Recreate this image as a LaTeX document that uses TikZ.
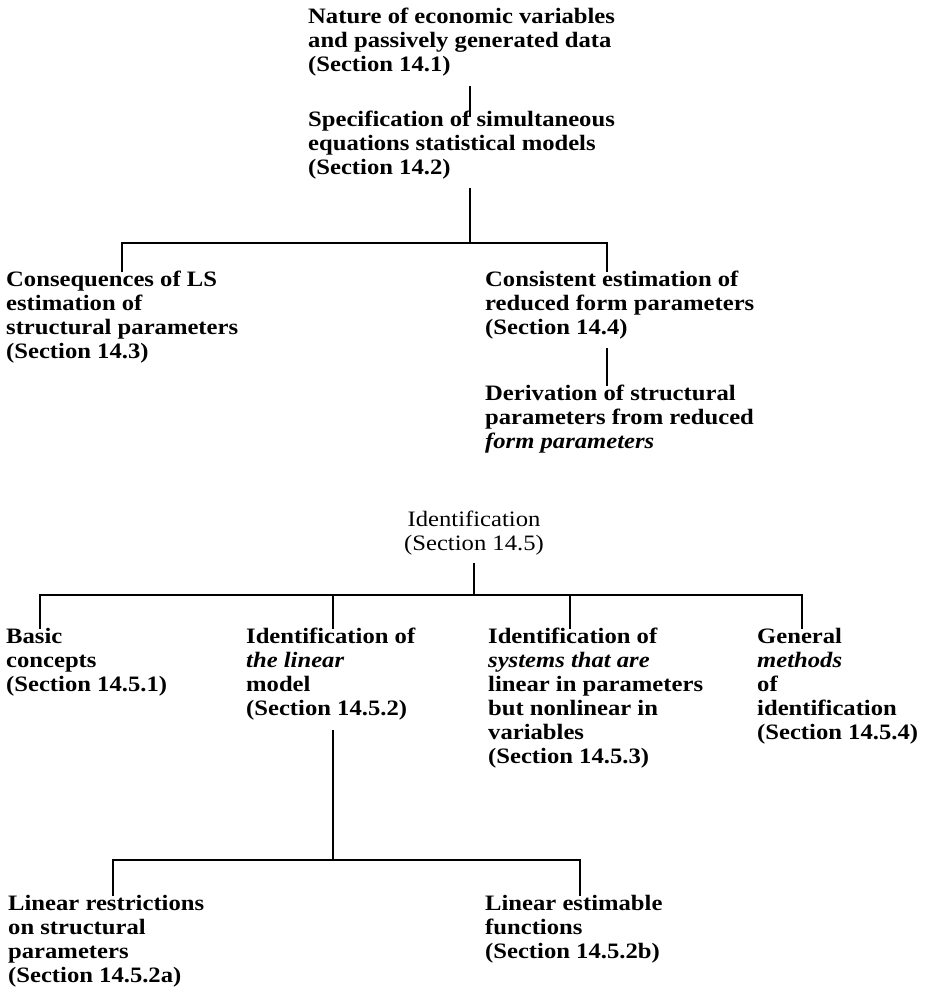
\documentclass[tikz,border=0pt]{standalone}
\usepackage{fontspec}
\setmainfont{Liberation Serif}[FakeStretch=1.12]
\tikzset{
  lbl/.style={anchor=north west, inner sep=0pt, align=left,
    font=\fontsize{22}{24}\selectfont\bfseries,
    execute at begin node=\strut, execute at end node=\strut},
  conn/.style={line width=1.6pt, line cap=rect}
}
\begin{document}
\begin{tikzpicture}[x=1pt,y=-1pt]
\useasboundingbox (0,0) rectangle (928,1006);
\node[lbl] (n1) at (308,8) {Nature of economic variables\\and passively generated data\\(Section 14.1)};
\node[lbl] (n2) at (308,111) {Specification of simultaneous\\equations statistical models\\(Section 14.2)};
\node[lbl] (n3) at (6,271) {Consequences of LS\\estimation of\\structural parameters\\(Section 14.3)};
\node[lbl] (n4) at (485,271) {Consistent estimation of\\reduced form parameters\\(Section 14.4)};
\node[lbl] (n5) at (485,385) {Derivation of structural\\parameters from reduced\\\textit{form parameters}};
\node[lbl, anchor=north, align=center, font=\fontsize{22}{24}\selectfont] (n6) at (474,511) {Identification\\(Section 14.5)};
\node[lbl] (n7) at (6,628) {Basic\\concepts\\(Section 14.5.1)};
\node[lbl] (n8) at (246,628) {Identification of\\\textit{the linear}\\model\\(Section 14.5.2)};
\node[lbl] (n9) at (488,628) {Identification of\\\textit{systems that are}\\linear in parameters\\but nonlinear in\\variables\\(Section 14.5.3)};
\node[lbl] (n10) at (757,628) {General\\\textit{methods}\\of\\identification\\(Section 14.5.4)};
\node[lbl] (n11) at (8,895) {Linear restrictions\\on structural\\parameters\\(Section 14.5.2a)};
\node[lbl] (n12) at (485,895) {Linear estimable\\functions\\(Section 14.5.2b)};
% junctions
\coordinate (j1) at (470,243);
\coordinate (d3) at (122,243);
\coordinate (d4) at (607,243);
\coordinate (j2) at (474,595);
\coordinate (d7) at (40,595);
\coordinate (d8) at (333,595);
\coordinate (d9) at (570,595);
\coordinate (d10) at (802,595);
\coordinate (j3) at (333,860);
\coordinate (d11) at (113,860);
\coordinate (d12) at (580,860);
% connectors
\draw[conn] ([yshift=-8pt]n1.south -| j1) -- ([yshift=-5pt]n2.north -| j1);
\draw[conn] ([yshift=-7pt]n2.south -| j1) -- (j1);
\draw[conn] (n3.north -| d3) -- (d3) -- (d4) -- (n4.north -| d4);
\draw[conn] ([yshift=-7pt]n4.south -| d4) -- (n5.north -| d4);
\draw[conn] ([yshift=-6pt]n6.south -| j2) -- (j2);
\draw[conn] (n7.north -| d7) -- (d7) -- (d10) -- (n10.north -| d10);
\draw[conn] (d8) -- (n8.north -| d8);
\draw[conn] (d9) -- (n9.north -| d9);
\draw[conn] ([yshift=-8pt]n8.south -| j3) -- (j3);
\draw[conn] (n11.north -| d11) -- (d11) -- (d12) -- (n12.north -| d12);
\end{tikzpicture}
\end{document}
